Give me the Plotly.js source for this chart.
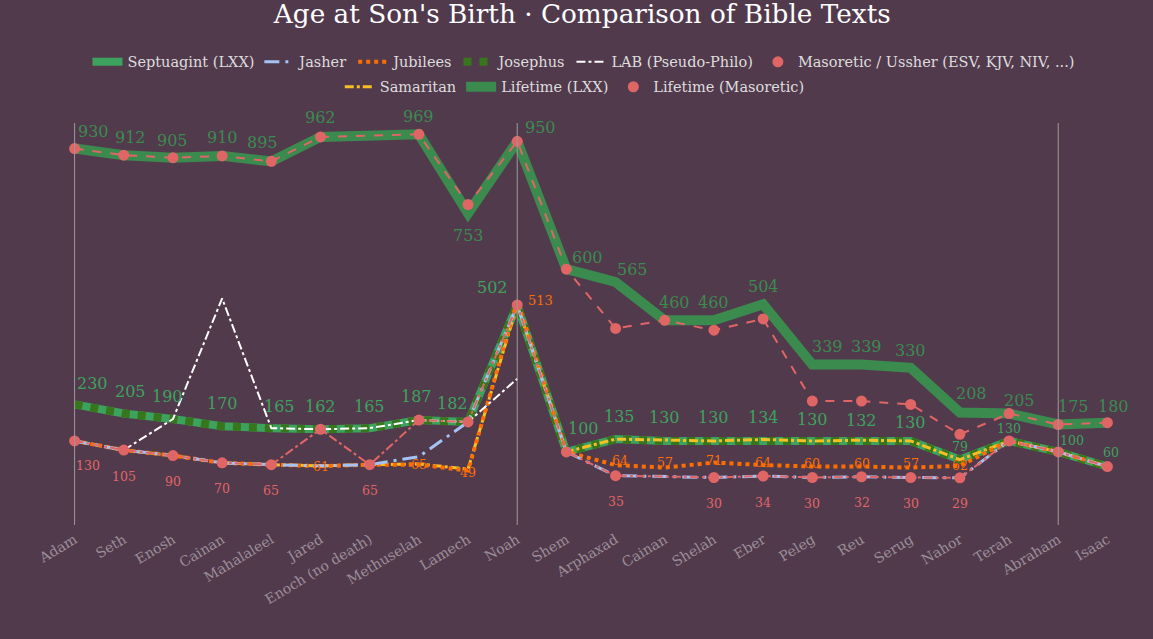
<!DOCTYPE html>
<html>
<head>
<meta charset="utf-8">
<script src="https://cdn.plot.ly/plotly-3.0.1.min.js"></script>
<style>
html,body{margin:0;padding:0;background:#523a4d;}
#chart{width:1153px;height:639px;}
</style>
</head>
<body>
<div id="chart"></div>
<script>
// ---- data ----
const categories = ['Adam','Seth','Enosh','Cainan','Mahalaleel','Jared','Enoch (no death)','Methuselah','Lamech','Noah','Shem','Arphaxad','Cainan','Shelah','Eber','Peleg','Reu','Serug','Nahor','Terah','Abraham','Isaac'];

// age at son's birth
const septuagint = [230,205,190,170,165,162,165,187,182,502,100,135,130,130,134,130,132,130,79,130,100,60];
const jasher     = [130,105,90,70,65,62,65,87,182,502,100,35,null,30,34,30,32,30,29,130,100,60];
const jubilees   = [130,105,90,70,65,61,65,65,49,513,100,64,57,71,64,60,60,57,62,130,100,60];
const josephus   = [230,205,190,170,165,162,165,187,182,502,100,135,130,130,134,130,132,130,79,130,100,60];
const lab        = [null,105,190,520,165,162,165,187,182,300,null,null,null,null,null,null,null,null,null,null,null,null];
const masoretic  = [130,105,90,70,65,162,65,187,182,502,100,35,null,30,34,30,32,30,29,130,100,60];
const samaritan  = [130,105,90,70,65,62,65,67,53,502,100,135,null,130,134,130,132,130,79,130,100,60];

// lifetimes
const lifetimeLxx = [930,912,905,910,895,962,null,969,753,950,600,565,460,460,504,339,339,330,208,205,175,180];
const lifetimeMas = [930,912,905,910,895,962,null,969,777,950,600,438,460,433,464,239,239,230,148,205,175,180];

const dividers = ['Adam','Noah','Abraham'];

// ---- styling ----
const FONT = 'DejaVu Serif, Georgia, serif';
const GREEN = '#3da25d', GREEN_LIFE = '#3b8b4f', DKGREEN = '#38761d';
const RED = '#e06666', ORANGE = '#ff6d01', BLUE = '#a4c2f4', YELLOW = '#f6bf26';
const xs = categories.map((_, i) => i);

function line(name, y, color, width, dash, rank, legendId, extra) {
  return Object.assign({
    type: 'scatter', mode: 'lines', name: name, x: xs, y: y,
    connectgaps: true, legendrank: rank, legend: legendId,
    line: {color: color, width: width, dash: dash},
    hoverinfo: 'skip'
  }, extra || {});
}

const traces = [
  line('Lifetime (LXX)', lifetimeLxx, GREEN_LIFE, 10, 'solid', 8, 'legend2'),
  line('Lifetime (Masoretic) line', lifetimeMas, RED, 2, 'dash', 99, 'legend2', {showlegend: false}),
  {type: 'scatter', mode: 'markers', name: 'Lifetime (Masoretic)', x: xs, y: lifetimeMas,
   marker: {color: RED, size: 11}, legendrank: 9, legend: 'legend2', hoverinfo: 'skip'},
  line('Septuagint (LXX)', septuagint, GREEN, 8, 'solid', 1, 'legend'),
  line('Josephus', josephus, DKGREEN, 8, 'dot', 4, 'legend'),
  line('Samaritan', samaritan, YELLOW, 3, 'dashdot', 7, 'legend2'),
  line('Jubilees', jubilees, ORANGE, 4, 'dot', 3, 'legend'),
  line('Jasher', jasher, BLUE, 3, 'longdashdot', 2, 'legend'),
  line('LAB (Pseudo-Philo)', lab, '#ffffff', 2, 'dashdot', 5, 'legend'),
  line('Masoretic line', masoretic, RED, 2, 'dashdot', 98, 'legend', {showlegend: false}),
  {type: 'scatter', mode: 'markers', name: 'Masoretic / Ussher (ESV, KJV, NIV, ...)', x: xs, y: masoretic,
   marker: {color: RED, size: 11}, legendrank: 6, legend: 'legend', hoverinfo: 'skip'}
];

// ---- value labels (annotations anchored on the data) ----
const annotations = [];
function addLabels(values, show, color, sizeFn, offsets) {
  values.forEach((v, i) => {
    if (v === null || !show(i)) return;
    const o = offsets[i] || [0, 0];
    annotations.push({
      x: i, y: v, xref: 'x', yref: 'y', text: String(v), showarrow: false,
      xshift: o[0], yshift: o[1],
      font: {family: FONT, size: sizeFn(i), color: color}
    });
  });
}
// lifetime LXX labels
const offLife = [[19,17],[7,18],[0,17],[0,18],[-9,19],[0,19],null,[0,18],[0,-22],[23,14],[21,12],[17,12],[10,18],[0,18],[0,18],[15,18],[5,18],[0,17],[12,19],[10,13],[15,18],[6,16]];
addLabels(lifetimeLxx, () => true, GREEN_LIFE, () => 16, offLife);
// LXX age labels
const offLxx = [[18,21],[7,22],[-5,23],[0,23],[8,22],[0,23],[0,22],[-2,24],[-16,18],[-25,18],[17,23],[4,23],[0,23],[0,23],[0,22],[0,21],[0,20],[0,18],[0,13],[0,12],[14,11],[4,14]];
addLabels(septuagint, () => true, GREEN, i => (i >= 18 ? 12.5 : 16), offLxx);
// Masoretic age labels where they differ from LXX
const offMas = {0:[13,-25]};
addLabels(masoretic, i => masoretic[i] !== septuagint[i], RED, () => 12.5,
  categories.map((_, i) => offMas[i] || [0, -26]));
// Jubilees labels where they differ from Masoretic
const offJub = {8:[0,-2], 9:[23,0], 11:[4,5], 12:[0,5], 13:[0,2], 14:[0,3], 15:[0,3], 16:[0,3], 17:[0,4]};
addLabels(jubilees, i => jubilees[i] !== masoretic[i], ORANGE, i => (i === 9 ? 13 : 12.5),
  categories.map((_, i) => offJub[i] || [0, 0]));

// vertical divider lines
const shapes = dividers.map(name => ({
  type: 'line', xref: 'x', yref: 'paper', x0: categories.indexOf(name), x1: categories.indexOf(name),
  y0: 0, y1: 1, line: {color: '#9a9a9a', width: 1}
}));

const legendBase = {orientation: 'h', xanchor: 'center', yanchor: 'middle',
  font: {family: FONT, size: 14.5, color: '#dddddd'}, bgcolor: 'rgba(0,0,0,0)',
  itemwidth: 30, traceorder: 'normal'};

const layout = {
  width: 1153, height: 639,
  paper_bgcolor: '#523a4d', plot_bgcolor: '#523a4d',
  margin: {l: 50, r: 21, t: 123, b: 114},
  font: {family: FONT, color: '#dddddd'},
  title: {text: "Age at Son's Birth · Comparison of Bible Texts", x: 0.505, xanchor: 'center',
          y: 0.978, yanchor: 'middle', font: {family: FONT, size: 26.3, color: '#ffffff'}},
  showlegend: true,
  legend: Object.assign({}, legendBase, {x: 0.4935, y: 1.152}),
  legend2: Object.assign({}, legendBase, {x: 0.485, y: 1.09}),
  xaxis: {range: [-0.5, 21.5], tickmode: 'array', tickvals: xs, ticktext: categories,
          tickangle: -31, showgrid: false, zeroline: false, showline: false, ticks: '',
          ticklabelstandoff: 3,
          tickfont: {family: FONT, size: 14, color: '#9a8e98'}, fixedrange: true},
  yaxis: {range: [-100, 1000], showgrid: false, zeroline: false, showline: false,
          showticklabels: false, ticks: '', fixedrange: true},
  shapes: shapes,
  annotations: annotations
};

Plotly.newPlot('chart', traces, layout, {displayModeBar: false, staticPlot: true});
</script>
</body>
</html>
